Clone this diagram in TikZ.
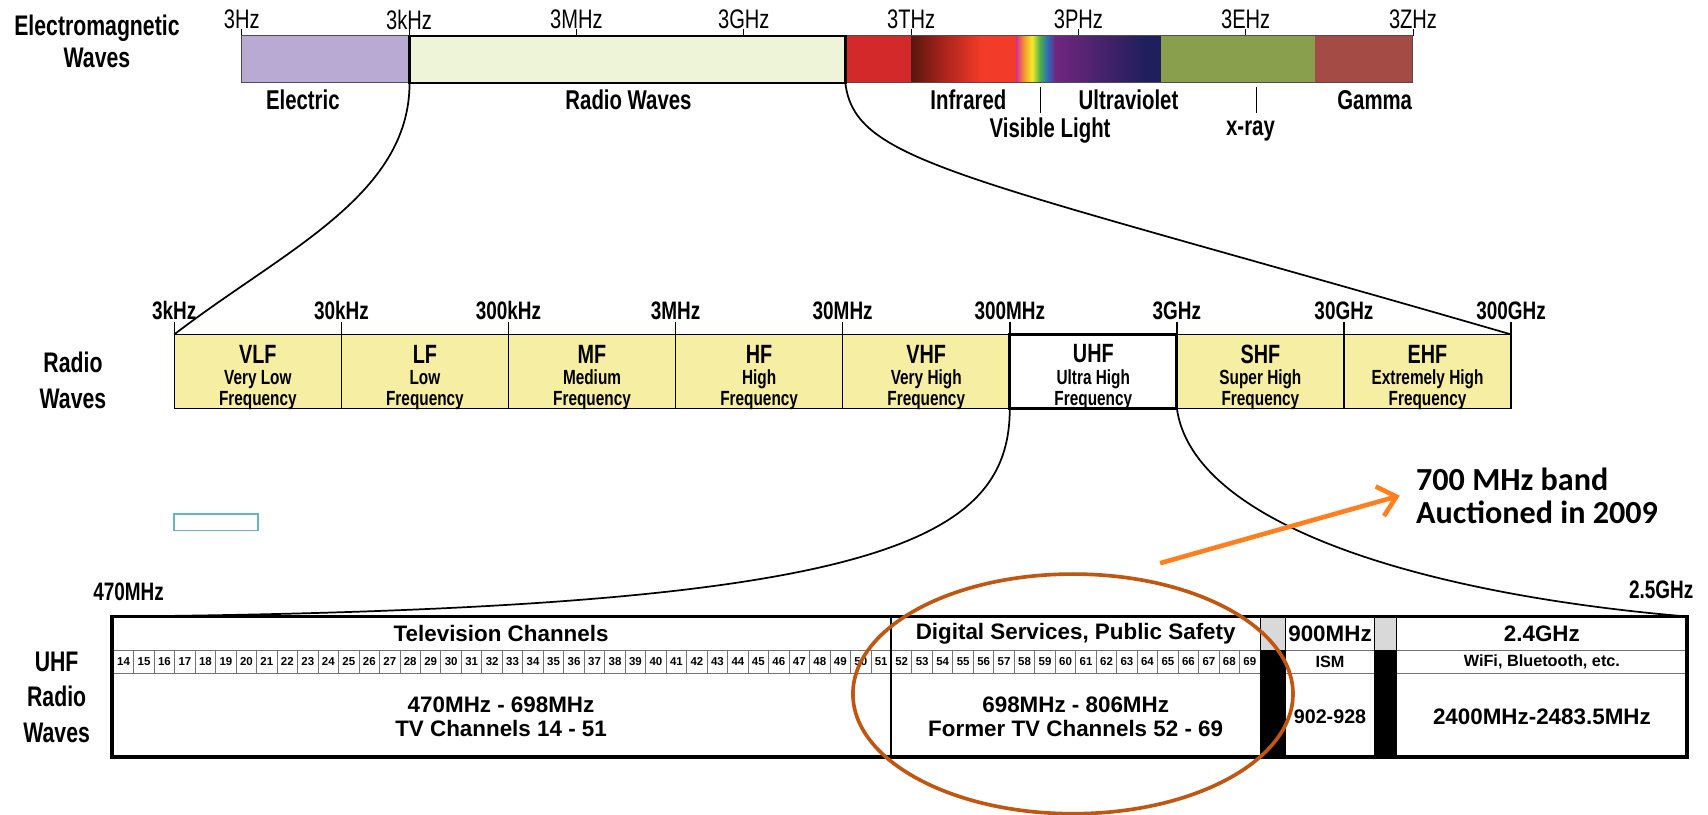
\documentclass[tikz,border=0pt]{standalone}
\usepackage{fontspec}
\setmainfont{Liberation Sans}
\newfontfamily\condensed[FakeStretch=0.75]{Liberation Sans}
\newfontfamily\calibri{Carlito}
\usetikzlibrary{arrows.meta}

\definecolor{elec}{HTML}{B9AAD3}
\definecolor{radio}{HTML}{EEF4D7}
\definecolor{farir}{HTML}{D3292A}
\definecolor{irdark}{HTML}{5B1710}
\definecolor{irmid}{HTML}{A8231B}
\definecolor{irbright}{HTML}{F23B28}
\definecolor{vmag}{HTML}{D8318C}
\definecolor{vorange}{HTML}{F39A2C}
\definecolor{vyellow}{HTML}{F4EB2A}
\definecolor{vgreen}{HTML}{4DB04A}
\definecolor{vblue}{HTML}{2E6AB8}
\definecolor{uvpurple}{HTML}{70267E}
\definecolor{uvnavy}{HTML}{1F1F5D}
\definecolor{xray}{HTML}{8A9F4E}
\definecolor{gamma}{HTML}{A44B46}
\definecolor{bandfill}{HTML}{F6EEA3}
\definecolor{ring}{HTML}{C0560F}
\definecolor{pointer}{HTML}{FF7F1F}
\definecolor{stray}{HTML}{63B9BA}

% shadings are stretched so that 25bp..75bp covers the box
\pgfdeclarehorizontalshading{infrared}{100bp}{color(0bp)=(irdark); color(25bp)=(irdark); color(40bp)=(irmid); color(58bp)=(irbright); color(75bp)=(irbright); color(100bp)=(irbright)}
\pgfdeclarehorizontalshading{visible}{100bp}{color(0bp)=(vmag); color(25bp)=(vmag); color(35bp)=(vorange); color(45bp)=(vyellow); color(55bp)=(vgreen); color(65bp)=(vblue); color(75bp)=(uvpurple); color(100bp)=(uvpurple)}
\pgfdeclarehorizontalshading{ultraviolet}{100bp}{color(0bp)=(uvpurple); color(25bp)=(uvpurple); color(68bp)=(uvnavy); color(100bp)=(uvnavy)}

\newcommand\pxu{0.02cm}

\tikzset{
  seg/.style={anchor=north west, inner sep=0pt, outer sep=0pt, minimum height=43*\pxu},
  band/.style={draw, line width=0.8pt, anchor=north west, inner sep=0pt, outer sep=0pt,
    minimum width=153.4*\pxu, minimum height=68*\pxu},
  side/.style={font=\condensed\bfseries\fontsize{14.8}{18.6}\selectfont, align=center},
  big/.style={font=\condensed\bfseries\fontsize{14.2}{15}\selectfont},
  emfreq/.style={font=\condensed\fontsize{14}{15}\selectfont},
  rffreq/.style={font=\condensed\bfseries\fontsize{13.2}{14}\selectfont},
  bandname/.style={font=\condensed\bfseries\fontsize{13.8}{15}\selectfont},
  bandsub/.style={font=\condensed\bfseries\fontsize{10.7}{10.8}\selectfont, align=center},
  tab/.style={font=\bfseries\fontsize{11.7}{12.5}\selectfont, align=center},
  tabsmall/.style={font=\bfseries\fontsize{8.5}{10}\selectfont},
  chan/.style={font=\bfseries\fontsize{6}{6}\selectfont, inner sep=0pt},
  grid/.style={black!55, line width=0.7pt},
  curve/.style={line width=0.9pt},
  note/.style={font=\calibri\bfseries\fontsize{16.8}{17}\selectfont, align=left,
    anchor=west, inner sep=0pt, outer xsep=0.3cm},
}

\begin{document}
\begin{tikzpicture}[x=0.02cm,y=-0.02cm]
\path[fill=white] (0,0) rectangle (1568,748);
\useasboundingbox (0,0) rectangle (1568,748);

% electromagnetic spectrum
\node[side, font=\condensed\bfseries\fontsize{14.8}{16.5}\selectfont] (emlbl) at (89,38) {Electromagnetic\\Waves};
\foreach \f [count=\i from 0] in {3Hz,3kHz,3MHz,3GHz,3THz,3PHz,3EHz,3ZHz}{
  \node[emfreq] (em\i) at ({222+153.6*\i},18) {\f};
  \draw ({222+153.6*\i},27) -- ++(0,6);
}
\node[seg, fill=elec, minimum width=154*\pxu] (elec) at (222,33) {};
\node[seg, fill=radio, minimum width=400*\pxu] (radio) at (376,33) {};
\node[seg, fill=farir, minimum width=61*\pxu] (red) at (776,33) {};
\node[seg, shade, shading=infrared, minimum width=96*\pxu] (ir) at (837,33) {};
\node[seg, shade, shading=visible, minimum width=36*\pxu] (vis) at (933,33) {};
\node[seg, shade, shading=ultraviolet, minimum width=97*\pxu] (uv) at (969,33) {};
\node[seg, fill=xray, minimum width=141*\pxu] (xr) at (1066,33) {};
\node[seg, fill=gamma, minimum width=90*\pxu] (gam) at (1207,33) {};
\draw[black!70, line width=0.5pt] (elec.north west) rectangle (gam.south east);
\draw[line width=1.3pt] (radio.north west) rectangle (radio.south east);

\node[big] (lelec) at (278,92) {Electric};
\node[big] (lradio) at (577,92) {Radio Waves};
\node[big] (lir) at (889,92) {Infrared};
\node[big] (luv) at (1036,92) {Ultraviolet};
\node[big] (lgam) at (1262,92) {Gamma};
\node[big] (lvis) at (964,120) {Visible Light};
\node[big] (lxr) at (1148,120) {x-ray};
\draw (955,80) -- (955,104);
\draw (1153,80) -- (1153,104);

% radio bands
\node[side] (rwlbl) at (67,349) {Radio\\Waves};
\foreach \f [count=\i from 0] in {3kHz,30kHz,300kHz,3MHz,30MHz,300MHz,3GHz,30GHz,300GHz}{
  \node[rffreq] (rf\i) at ({160+153.4*\i},285) {\f};
  \draw[line width=0.8pt] ({160+153.4*\i},296) -- ++(0,11);
}
\foreach \n/\t/\c [count=\i from 0] in {VLF/Very Low/bandfill,LF/Low/bandfill,%
    MF/Medium/bandfill,HF/High/bandfill,VHF/Very High/bandfill,UHF/Ultra High/white,%
    SHF/Super High/bandfill,EHF/Extremely High/bandfill}{
  \node[band, fill=\c] (\n) at ({160+153.4*\i},307) {};
  \node[bandname] (\n-t) at ({236.7+153.4*\i},325) {\n};
  \node[bandsub] (\n-s) at ({236.7+153.4*\i},358) {\t\\Frequency};
}
\draw[line width=1.6pt] (UHF.north west) rectangle (UHF.south east);

\draw[curve] (radio.south west) .. controls (376,180) and (260,230) .. (VLF.north west);
\draw[curve] (radio.south east) .. controls (785,150) and (880,160) .. (EHF.north east);

% uhf allocations
\node[side] (uhflbl) at (52,640) {UHF\\Radio\\Waves};
\node[rffreq] (f470) at (118,543) {470MHz};
\node[rffreq] (f25) at (1525,541) {2.5GHz};
\coordinate (tnw) at (103,566);
\coordinate (tne) at (1549,566);
\coordinate (tse) at (1549,695);

\fill[black!15] (1157,566) rectangle (1180,597);
\fill[black] (1157,597) rectangle (1180,695);
\fill[black!15] (1262,566) rectangle (1282,597);
\fill[black] (1262,597) rectangle (1282,695);

\draw[grid] (103,597) -- (1157,597) (103,618) -- (1157,618);
\draw[grid] (1180,597) -- (1262,597) (1180,618) -- (1262,618);
\draw[grid] (1282,597) -- (1549,597) (1282,618) -- (1549,618);
\foreach \k in {1,...,55}
  \draw[grid, line width=0.5pt] ({104+18.8*\k},597) -- ++(0,21);
\foreach \k [count=\j from 0] in {14,...,69}
  \node[chan] (ch\k) at ({113.4+18.8*\j},607.5) {\k};

\draw[line width=1pt] (818,566) -- (818,695);
\draw[line width=0.7pt] (1157,566) -- (1157,695) (1180,566) -- (1180,695)
  (1262,566) -- (1262,695) (1282,566) -- (1282,695);
\draw[line width=2pt] (tnw) rectangle (tse);

\node[tab] (tvh) at (460,582) {Television Channels};
\node[tab] (dsh) at (987.5,582) {Digital Services, Public Safety};
\node[tab] (ismh) at (1221,582) {900MHz};
\node[tab] (wfh) at (1415.5,582) {2.4GHz};
\node[tabsmall] (ism) at (1221,607.5) {ISM};
\node[tabsmall] (wf) at (1415.5,607.5) {WiFi, Bluetooth, etc.};
\node[tab] (tvb) at (460,658) {470MHz - 698MHz\\TV Channels 14 - 51};
\node[tab] (dsb) at (987.5,658) {698MHz - 806MHz\\Former TV Channels 52 - 69};
\node[tab, font=\bfseries\fontsize{10.3}{12}\selectfont] (ismb) at (1221,658) {902-928};
\node[tab] (wfb) at (1415.5,658) {2400MHz-2483.5MHz};

\draw[curve] (UHF.south west) .. controls (927,500) and (800,560) .. (tnw);
\draw[curve] (UHF.south east) .. controls (1095,480) and (1300,545) .. (tne);

\draw[stray, line width=0.9pt] (160,472) rectangle (237,487);

% 700 MHz note
\draw[ring, line width=1.9pt] (985,637) ellipse [x radius=202, y radius=110];
\coordinate (tail) at (1065,517);
\node[note] (note) at (1285,455) {700 MHz band\\Auctioned in 2009};
\draw[pointer, line width=2.4pt, -{Straight Barb[length=9pt,width=16pt]}] (tail) -- (note.west);
\end{tikzpicture}
\end{document}
